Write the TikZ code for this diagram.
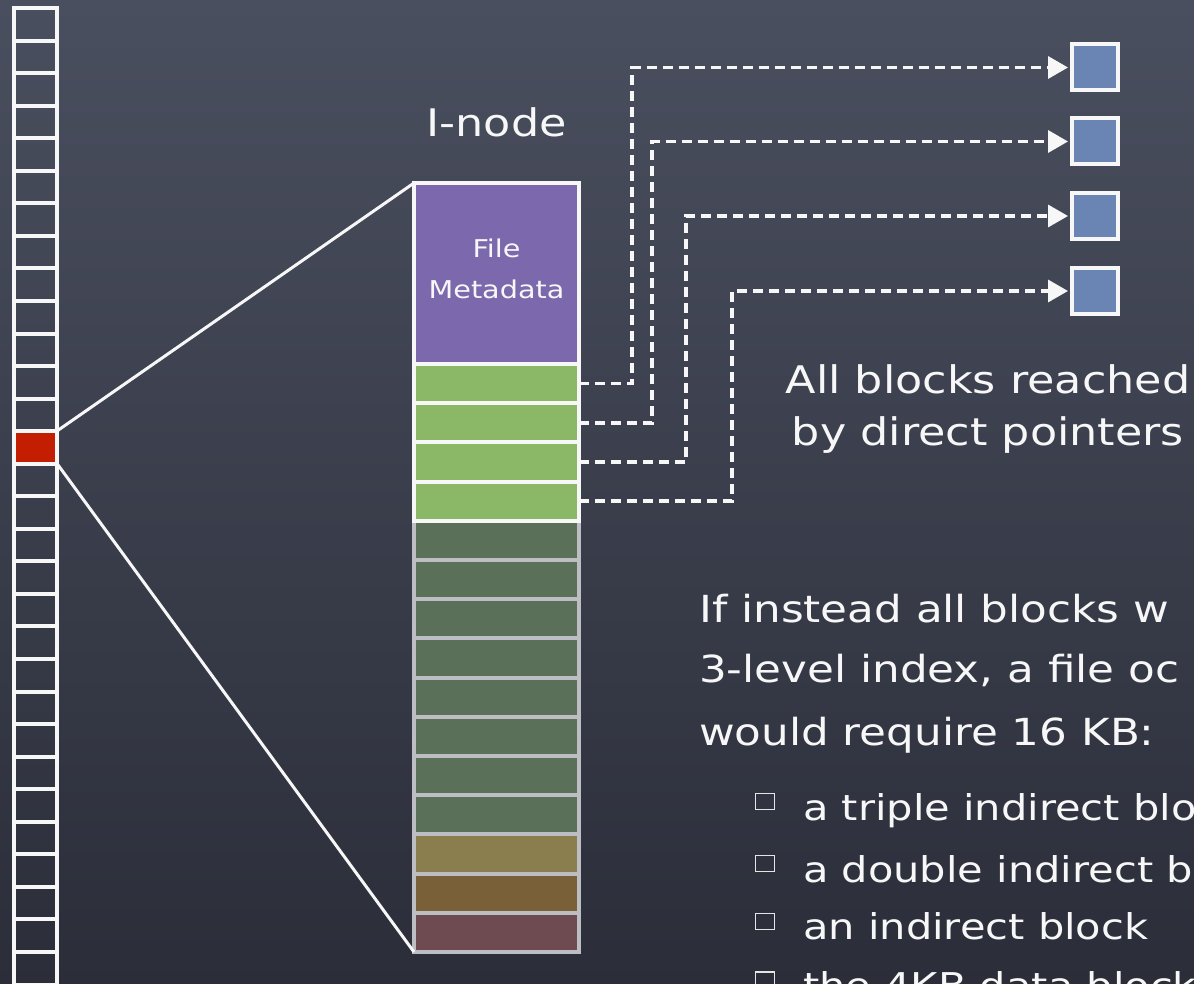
\documentclass[tikz,border=0pt]{standalone}
\usepackage{fontspec}
\setmainfont{DejaVu Sans}[FakeStretch=1.17]
\usetikzlibrary{arrows.meta}
\definecolor{bgtop}{HTML}{4A4F5F}
\definecolor{bgmid}{HTML}{404453}
\definecolor{bgbot}{HTML}{2B2E39}
\definecolor{redc}{HTML}{C41E02}
\definecolor{purp}{HTML}{7C68AD}
\definecolor{lgreen}{HTML}{8AB866}
\definecolor{dgreen}{HTML}{5A7058}
\definecolor{fyel}{HTML}{8A7D4E}
\definecolor{fbrown}{HTML}{7A6038}
\definecolor{fred}{HTML}{6E4B50}
\definecolor{fadeline}{HTML}{BDBEC4}
\definecolor{blk}{HTML}{6A84B4}
\definecolor{chalk}{HTML}{F7F7F7}
\begin{document}
\begin{tikzpicture}[x=1pt,y=-1pt,
  colline/.style={draw=chalk,line width=4pt},
  cellU/.style={draw=chalk,line width=4pt,minimum width=165pt,inner sep=0pt,outer sep=0pt},
  cellF/.style={draw=fadeline,line width=4pt,minimum width=165pt,minimum height=39.2pt,inner sep=0pt,outer sep=0pt},
  gcell/.style={cellU,fill=lgreen,minimum height=39.2pt},
  dblock/.style={draw=chalk,fill=blk,line width=4pt,minimum size=46pt,inner sep=0pt,outer sep=0pt},
  ptr/.style={draw=chalk,line width=3.5pt,dash pattern=on 10pt off 6pt,shorten >=4pt,
    -{Triangle[length=20pt,width=22pt]}},
  zoomline/.style={draw=chalk,line width=3pt},
  bigtxt/.style={text=chalk,font=\fontsize{38}{46}\selectfont,inner sep=0pt},
  bodytxt/.style={text=chalk,font=\fontsize{37.3}{46}\selectfont,inner sep=0pt},
  subtxt/.style={text=chalk,font=\fontsize{35.5}{44}\selectfont,inner sep=0pt},
  smtxt/.style={text=chalk,font=\fontsize{24.5}{41}\selectfont,inner sep=0pt,align=center},
  bullet/.style={draw=chalk!85!gray,line width=1.4pt,minimum width=19pt,minimum height=16pt,inner sep=0pt}
]
\useasboundingbox (0,0) rectangle (1194,984);
\shade[top color=bgtop,middle color=bgmid,bottom color=bgbot] (0,0) rectangle (1194,984);

% disk column
\node[fill=redc,minimum width=43pt,minimum height=32.55pt,inner sep=0pt,outer sep=0pt] (red) at (35.5,447.275) {};
\foreach \k in {0,...,30} \draw[colline] (14,{8+32.55*\k}) -- (57,{8+32.55*\k});
\draw[colline] (14,6) -- (14,990) (57,6) -- (57,990);

% i-node
\node[minimum width=165pt,minimum height=769pt,inner sep=0pt,outer sep=0pt] (inode) at (496.5,567.5) {};
\node[cellF,fill=dgreen] (f1) at (496.5,540.4) {};
\node[cellF,fill=dgreen] (f2) at (496.5,579.6) {};
\node[cellF,fill=dgreen] (f3) at (496.5,618.8) {};
\node[cellF,fill=dgreen] (f4) at (496.5,658) {};
\node[cellF,fill=dgreen] (f5) at (496.5,697.2) {};
\node[cellF,fill=dgreen] (f6) at (496.5,736.4) {};
\node[cellF,fill=dgreen] (f7) at (496.5,775.6) {};
\node[cellF,fill=dgreen] (f8) at (496.5,814.8) {};
\node[cellF,fill=fyel] (f9) at (496.5,854) {};
\node[cellF,fill=fbrown] (f10) at (496.5,893.2) {};
\node[cellF,fill=fred] (f11) at (496.5,932.4) {};
\node[cellU,fill=purp,minimum height=181pt] (meta) at (496.5,273.5) {};
\node[smtxt] (metatxt) at (496.5,269) {File\\Metadata};
\node[gcell] (g1) at (496.5,383.6) {};
\node[gcell] (g2) at (496.5,422.8) {};
\node[gcell] (g3) at (496.5,462) {};
\node[gcell] (g4) at (496.5,501.2) {};
\node[bigtxt,anchor=base] (ilabel) at (496.5,137) {I-node};

% zoom lines
\draw[zoomline] (red.north east) -- (inode.north west);
\draw[zoomline] (red.south east) -- (inode.south west);

% data blocks
\node[dblock] (b1) at (1095,67.5) {};
\node[dblock] (b2) at (1095,141.5) {};
\node[dblock] (b3) at (1095,216) {};
\node[dblock] (b4) at (1095,291) {};

\coordinate (v1) at (632,0);
\coordinate (v2) at (652,0);
\coordinate (v3) at (686,0);
\coordinate (v4) at (732,0);
\draw[ptr] (g1.east) -- (g1.east -| v1) -- (v1 |- b1.west) -- (b1.west);
\draw[ptr] (g2.east) -- (g2.east -| v2) -- (v2 |- b2.west) -- (b2.west);
\draw[ptr] (g3.east) -- (g3.east -| v3) -- (v3 |- b3.west) -- (b3.west);
\draw[ptr] (g4.east) -- (g4.east -| v4) -- (v4 |- b4.west) -- (b4.west);

% texts
\node[bigtxt,anchor=base] (all1) at (988,393) {All blocks reached};
\node[bigtxt,anchor=base] (all2) at (988,445) {by direct pointers};

\node[bodytxt,anchor=base west] (t1) at (699,622) {If instead all blocks w};
\node[bodytxt,anchor=base west] (t2) at (699,682) {3-level index, a file oc};
\node[bodytxt,anchor=base west] (t3) at (699,745) {would require 16 KB:};
\node[bullet] (bx1) at (765,801.5) {};
\node[bullet] (bx2) at (765,863.5) {};
\node[bullet] (bx3) at (765,921.5) {};
\node[bullet] (bx4) at (765,980) {};
\node[subtxt,anchor=base west] (s1) at (803,820) {a triple indirect blo};
\node[subtxt,anchor=base west] (s2) at (803,882) {a double indirect b};
\node[subtxt,anchor=base west] (s3) at (803,939) {an indirect block};
\node[subtxt,anchor=base west] (s4) at (803,998) {the 4KB data block};
\end{tikzpicture}
\end{document}
